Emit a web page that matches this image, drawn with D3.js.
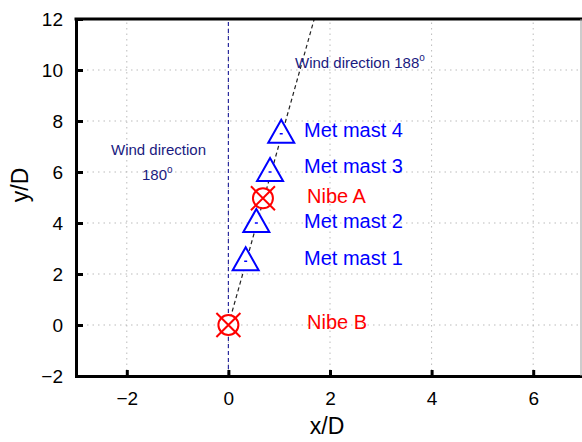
<!DOCTYPE html>
<html>
<head>
<meta charset="utf-8">
<script src="https://cdn.jsdelivr.net/npm/d3@7"></script>
<style>
  body { margin: 0; background: #fff; }
  svg { display: block; font-family: Arial, "Liberation Sans", sans-serif; }
</style>
</head>
<body>
<div id="chart"></div>
<script>
// Positions of turbines and met masts, in rotor diameters
const turbineNames = ["Nibe B", "Nibe A"];
const turbineX = [0, 0.68];
const turbineY = [0, 4.97];
const turbineLabelY = [-0.16, 4.8];   // label baselines

const mastNames = ["Met mast 1", "Met mast 2", "Met mast 3", "Met mast 4"];
const mastX = [0.34, 0.55, 0.82, 1.04];
const mastY = [2.5, 4.0, 6.0, 7.5];
const mastLabelY = [2.36, 3.82, 5.96, 7.38];

// 188 degree wind line from Nibe B
const windLineX = [0, 1.69];
const windLineY = [0, 12];

const xTicks = [-2, 0, 2, 4, 6];
const yTicks = [-2, 0, 2, 4, 6, 8, 10, 12];

const width = 582, height = 442;
const margin = { left: 76, top: 19, right: -2, bottom: 66 };

const svg = d3.select("#chart").append("svg")
    .attr("width", width)
    .attr("height", height);

const x = d3.scaleLinear().domain([-3, 7]).range([margin.left, width - margin.right]);
const y = d3.scaleLinear().domain([-2, 12]).range([height - margin.bottom, margin.top]);

// dotted grid
svg.append("g").selectAll("line")
    .data(xTicks)
    .enter().append("line")
    .attr("x1", d => x(d)).attr("x2", d => x(d))
    .attr("y1", y(-2)).attr("y2", y(12))
    .attr("stroke", "#bbb").attr("stroke-width", 1)
    .attr("stroke-dasharray", "1.5,4");
svg.append("g").selectAll("line")
    .data(yTicks)
    .enter().append("line")
    .attr("x1", x(-3)).attr("x2", width)
    .attr("y1", d => y(d)).attr("y2", d => y(d))
    .attr("stroke", "#bbb").attr("stroke-width", 1)
    .attr("stroke-dasharray", "1.5,4");

// 180 degree line (vertical at x=0)
svg.append("line")
    .attr("x1", x(0)).attr("x2", x(0))
    .attr("y1", y(-2)).attr("y2", y(12))
    .attr("stroke", "#2b2b9e").attr("stroke-width", 1.2)
    .attr("stroke-dasharray", "4,3");

// 188 degree line
const line = d3.line().x(d => x(d[0])).y(d => y(d[1]));
svg.append("path")
    .datum(windLineX.map((v, i) => [v, windLineY[i]]))
    .attr("d", line)
    .attr("fill", "none")
    .attr("stroke", "#222").attr("stroke-width", 1.2)
    .attr("stroke-dasharray", "4,3");

// axes
const xAxis = d3.axisBottom(x).tickValues(xTicks).tickSize(-6).tickPadding(16).tickFormat(d3.format("d"));
const yAxis = d3.axisLeft(y).tickValues(yTicks).tickSize(-7).tickPadding(13).tickFormat(d3.format("d"));

const gx = svg.append("g").attr("transform", `translate(0,${y(-2)})`).call(xAxis);
const gy = svg.append("g").attr("transform", `translate(${x(-3)},0)`).call(yAxis);
[gx, gy].forEach(g => {
    g.attr("font-size", null).attr("font-family", null);
    g.select(".domain").attr("stroke", "#000").attr("stroke-width", 3);
    g.selectAll(".tick line").attr("stroke", "#000").attr("stroke-width", 3);
    g.selectAll(".tick text").attr("fill", "#000")
        .style("font-size", "19px");
});

// top frame
svg.append("line")
    .attr("x1", x(-3) - 1.5).attr("x2", width)
    .attr("y1", y(12)).attr("y2", y(12))
    .attr("stroke", "#000").attr("stroke-width", 3);
// right edge border
svg.append("line")
    .attr("x1", width - 1).attr("x2", width - 1)
    .attr("y1", y(12)).attr("y2", y(-2))
    .attr("stroke", "#999").attr("stroke-width", 1);

// axis titles
svg.append("text")
    .attr("x", 327).attr("y", 434)
    .attr("text-anchor", "middle")
    .style("font-size", "23px")
    .text("x/D");
svg.append("text")
    .attr("transform", "translate(28,185) rotate(-90)")
    .attr("text-anchor", "middle")
    .style("font-size", "23px")
    .text("y/D");

// met mast triangles
const masts = mastNames.map((n, i) => ({ name: n, x: mastX[i], y: mastY[i], ly: mastLabelY[i] }));
const mastG = svg.append("g").selectAll("g")
    .data(masts)
    .enter().append("g")
    .attr("transform", d => `translate(${x(d.x)},${y(d.y)})`);
mastG.append("path")
    .attr("d", "M0,-14 L13,9 L-13,9 Z")
    .attr("fill", "#fff")
    .attr("stroke", "#0000ff").attr("stroke-width", 2);
mastG.append("line")
    .attr("x1", -1.5).attr("x2", 1.5).attr("y1", 0).attr("y2", 0)
    .attr("stroke", "#0000ff").attr("stroke-width", 1.5);
svg.append("g").selectAll("text")
    .data(masts)
    .enter().append("text")
    .attr("x", 304)
    .attr("y", d => y(d.ly))
    .attr("fill", "#0000ff")
    .style("font-size", "20px")
    .text(d => d.name);

// turbines
const turbines = turbineNames.map((n, i) => ({ name: n, x: turbineX[i], y: turbineY[i], ly: turbineLabelY[i] }));
const turbG = svg.append("g").selectAll("g")
    .data(turbines)
    .enter().append("g")
    .attr("transform", d => `translate(${x(d.x)},${y(d.y)})`);
turbG.append("circle")
    .attr("r", 10)
    .attr("fill", "#fff")
    .attr("stroke", "#ff0000").attr("stroke-width", 2);
turbG.append("path")
    .attr("d", "M-12,-12 L12,12 M12,-12 L-12,12")
    .attr("stroke", "#ff0000").attr("stroke-width", 2);
svg.append("g").selectAll("text")
    .data(turbines)
    .enter().append("text")
    .attr("x", 307)
    .attr("y", d => y(d.ly))
    .attr("fill", "#ff0000")
    .style("font-size", "20px")
    .text(d => d.name);

// wind direction annotations
svg.append("text")
    .attr("x", 111).attr("y", 155)
    .attr("fill", "#1a1a80")
    .style("font-size", "15px")
    .text("Wind direction");
const t180 = svg.append("text")
    .attr("x", 142).attr("y", 180)
    .attr("fill", "#1a1a80")
    .style("font-size", "15px");
t180.append("tspan").text("180");
t180.append("tspan").attr("dy", -7).style("font-size", "10px").text("o");

const t188 = svg.append("text")
    .attr("x", 295).attr("y", 68)
    .attr("fill", "#1a1a80")
    .style("font-size", "15px");
t188.append("tspan").text("Wind direction 188");
t188.append("tspan").attr("dy", -7).style("font-size", "10px").text("o");
</script>
</body>
</html>
